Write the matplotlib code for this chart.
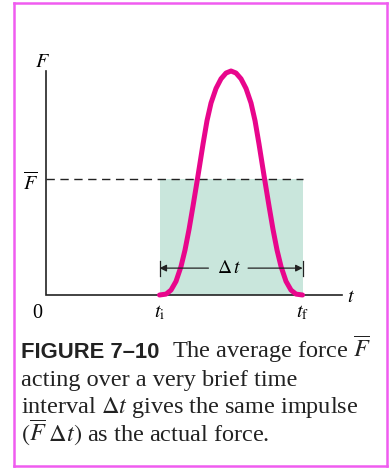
import matplotlib.pyplot as plt
from matplotlib.lines import Line2D

plt.rcParams['mathtext.fontset'] = 'stix'
plt.rcParams['font.family'] = ['Liberation Serif', 'DejaVu Serif']

# force pulse F(t), peak normalised to 1
t_pts = [2.004, 2.119, 2.207, 2.295, 2.383, 2.454, 2.525, 2.595, 2.684, 2.772, 2.842,
         2.913, 3.001, 3.089, 3.178, 3.266,
         3.354, 3.443, 3.531, 3.619, 3.690, 3.760, 3.848, 3.937, 4.007, 4.078,
         4.149, 4.237, 4.325, 4.413, 4.528]
F_pts = [0.000, 0.004, 0.022, 0.061, 0.127, 0.201, 0.293, 0.397, 0.534, 0.674, 0.778,
         0.857, 0.922, 0.965, 0.991, 1.000,
         0.991, 0.965, 0.922, 0.857, 0.778, 0.674, 0.534, 0.397, 0.293, 0.201,
         0.127, 0.061, 0.022, 0.004, 0.000]
t_i = 2.004
t_f = 4.53
F_avg = 0.52
t_end = 5.22
F_top = 1.0

caption = [
    "acting over a very brief time",
    r"interval $\Delta t$ gives the same impulse",
    r"$(\overline{F}\;\Delta t)$ as the actual force.",
]

W, H = 392, 468
fig = plt.figure(figsize=(W / 100, H / 100), dpi=100)
ax = fig.add_axes([0, 0, 1, 1])
# 1 unit of t = 56.65 px, origin at x=46 px; 1 unit of F = 224 px, origin at y=295 px
ax.set_xlim(-46 / 56.65, (W - 46) / 56.65)
ax.set_ylim((295 - H) / 224, 295 / 224)
ax.axis('off')

def px(x, y):
    return x / W, 1 - y / H

# frame around the figure
for xs, ys in [((14, 14), (3, 466)), ((14, 387), (3, 3)), ((387, 387), (3, 466)), ((14, 387), (466, 466))]:
    fig.add_artist(Line2D([xs[0] / W, xs[1] / W], [1 - ys[0] / H, 1 - ys[1] / H],
                          color='#f05cf0', lw=1.8, transform=fig.transFigure))

# shaded rectangle of equal impulse
ax.fill_between([t_i, t_f], 0, F_avg, color='#c9e6dc', lw=0, zorder=1)
ax.plot([0, t_f], [F_avg, F_avg], color='#222222', lw=1.0, dashes=(6, 4), zorder=2)

# axes
ax.plot([0, 0, t_end], [F_top, 0, 0], color='#222222', lw=1.2, zorder=3,
        solid_joinstyle='miter')

ax.plot(t_pts, F_pts, color='#e8068c', lw=3.6, solid_capstyle='round',
        solid_joinstyle='round', zorder=4)

# Delta t dimension arrow
y_arr = 0.12
for tx in (t_i, t_f):
    ax.plot([tx, tx], [0.085, 0.152], color='#222222', lw=0.9, zorder=5)
mid = 0.5 * (t_i + t_f)
ax.annotate('', xy=(t_i, y_arr), xytext=(mid - 0.40, y_arr),
            arrowprops=dict(arrowstyle='-|>', color='#222222', lw=0.9,
                            mutation_scale=10, shrinkA=0, shrinkB=0), zorder=5)
ax.annotate('', xy=(t_f, y_arr), xytext=(mid + 0.30, y_arr),
            arrowprops=dict(arrowstyle='-|>', color='#222222', lw=0.9,
                            mutation_scale=10, shrinkA=0, shrinkB=0), zorder=5)
ax.text(mid - 0.03, y_arr, r'$\Delta\,t$', fontsize=14, ha='center', va='center', zorder=6)

# axis labels
fs = 14.5
ax.text(-0.07, 1.018, r'$F$', fontsize=fs, ha='center', va='baseline')
ax.text(-0.28, 0.47, r'$\overline{F}$', fontsize=fs, ha='center', va='baseline')
ax.text(-0.16, -0.103, '0', fontsize=fs, ha='center', va='baseline')
ax.text(t_i, -0.098, r'$t_{\mathrm{i}}$', fontsize=fs, ha='center', va='baseline')
ax.text(t_f, -0.098, r'$t_{\mathrm{f}}$', fontsize=fs, ha='center', va='baseline')
ax.text(5.31, -0.031, r'$t$', fontsize=fs, ha='left', va='baseline')

# caption
cfs = 17.5
ink = '#222222'
fig.text(*px(21, 358), 'FIGURE 7\u201310', fontsize=15.8, fontweight='bold',
         family=['Liberation Sans', 'DejaVu Sans'], color=ink, va='baseline')
fig.text(*px(172, 358), r'The average force $\overline{F}$', fontsize=cfs,
         color=ink, va='baseline')
for k, line in enumerate(caption):
    fig.text(*px(21, 386 + 27.5 * k), line, fontsize=cfs, color=ink, va='baseline')

fig.savefig('out.png', dpi=100)
